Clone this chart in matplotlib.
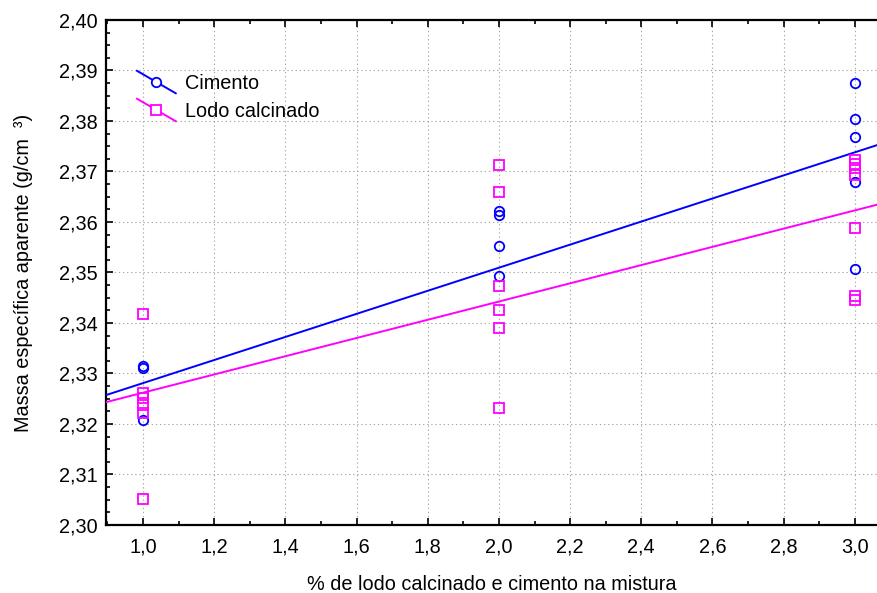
import matplotlib
matplotlib.use("Agg")
import matplotlib.pyplot as plt
from matplotlib.ticker import MultipleLocator, FuncFormatter
from matplotlib.legend_handler import HandlerBase
from matplotlib.lines import Line2D

plt.rcParams['font.family'] = ['Liberation Sans', 'DejaVu Sans']

# ---- data ----
cimento_x = [1, 1, 1, 2, 2, 2, 2, 3, 3, 3, 3, 3]
cimento_y = [2.3315, 2.3310, 2.3207,
             2.3622, 2.3614, 2.3552, 2.3494,
             2.3875, 2.3803, 2.3768, 2.3680, 2.3506]
lodo_x = [1, 1, 1, 1, 1, 1, 2, 2, 2, 2, 2, 2, 3, 3, 3, 3, 3, 3, 3]
lodo_y = [2.3418, 2.3262, 2.3252, 2.3238, 2.3222, 2.3052,
          2.3712, 2.3660, 2.3473, 2.3425, 2.3390, 2.3231,
          2.3722, 2.3714, 2.3706, 2.3694, 2.3589, 2.3454, 2.3446]
# fitted regression lines (values at x = 1 and x = 3)
fit_x = [1.0, 3.0]
cimento_fit = [2.3281, 2.3738]
lodo_fit = [2.3262, 2.3623]
series_names = ["Cimento", "Lodo calcinado"]
xlabel = "% de lodo calcinado e cimento na mistura"
ylabel = "Massa específica aparente (g/cm  ³)"

BLUE = '#0000ff'
MAG = '#ff00ff'
FS = 14.3

W, H = 878, 593
fig = plt.figure(figsize=(W / 100, H / 100), dpi=100)
ax = fig.add_axes([106 / W, (H - 525) / H, (W - 106) / W, 505 / H])

ax.axline((fit_x[0], cimento_fit[0]), (fit_x[1], cimento_fit[1]), color=BLUE, lw=1.4, zorder=3)
ax.axline((fit_x[0], lodo_fit[0]), (fit_x[1], lodo_fit[1]), color=MAG, lw=1.4, zorder=3)

ax.plot(cimento_x, cimento_y, linestyle='none', marker='o', ms=6.8, mfc='none',
        mec=BLUE, mew=1.3, zorder=4)
ax.plot(lodo_x, lodo_y, linestyle='none', marker='s', ms=7.0, mfc='none',
        mec=MAG, mew=1.3, zorder=5)

ax.set_xlim(0.896, 3.065)
ax.set_ylim(2.30, 2.40)
ax.xaxis.set_major_locator(MultipleLocator(0.2))
ax.xaxis.set_minor_locator(MultipleLocator(0.1))
ax.yaxis.set_major_locator(MultipleLocator(0.01))
ax.yaxis.set_minor_locator(MultipleLocator(0.0025))
ax.xaxis.set_major_formatter(FuncFormatter(lambda v, p: f"{v:.1f}".replace('.', ',')))
ax.yaxis.set_major_formatter(FuncFormatter(lambda v, p: f"{v:.2f}".replace('.', ',')))

ax.tick_params(which='both', direction='in', top=True, right=False, width=1.2, color='black')
ax.tick_params(which='major', length=5, labelsize=FS, pad=9)
ax.tick_params(which='minor', length=3)
ax.tick_params(axis='y', which='major', pad=6)

for s in ['left', 'bottom', 'top']:
    ax.spines[s].set_linewidth(1.6)
ax.spines['right'].set_visible(False)

ax.grid(True, which='major', linestyle=(0, (1.2, 2.5)), color='#a8a8a8', lw=0.8)
ax.set_axisbelow(True)

ax.set_xlabel(xlabel, fontsize=FS, labelpad=13)
ax.set_ylabel(ylabel, fontsize=FS, labelpad=19)


class DiagHandler(HandlerBase):
    def __init__(self, marker, color, ms):
        super().__init__()
        self.marker = marker
        self.color = color
        self.ms = ms

    def create_artists(self, legend, orig_handle, xdescent, ydescent, width, height, fontsize, trans):
        cy = height / 2 - ydescent
        dy = 0.29 * width
        x0, x1 = -xdescent, width - xdescent
        ln = Line2D([x0, x1], [cy + dy, cy - dy], color=self.color, lw=1.4)
        mk = Line2D([(x0 + x1) / 2], [cy], marker=self.marker, ms=self.ms, mfc='white',
                    mec=self.color, mew=1.3, linestyle='none')
        ln.set_transform(trans)
        mk.set_transform(trans)
        return [ln, mk]


h1 = Line2D([], [], color=BLUE)
h2 = Line2D([], [], color=MAG)
leg = ax.legend([h1, h2], series_names,
                handler_map={h1: DiagHandler('o', BLUE, 6.8), h2: DiagHandler('s', MAG, 7.0)},
                loc='upper left', bbox_to_anchor=((137 - 106) / (W - 106), (525 - 74) / 505),
                frameon=False, fontsize=FS, handlelength=1.95, handletextpad=0.45,
                borderpad=0, borderaxespad=0, labelspacing=0.45)

fig.savefig('out.png', dpi=100)
